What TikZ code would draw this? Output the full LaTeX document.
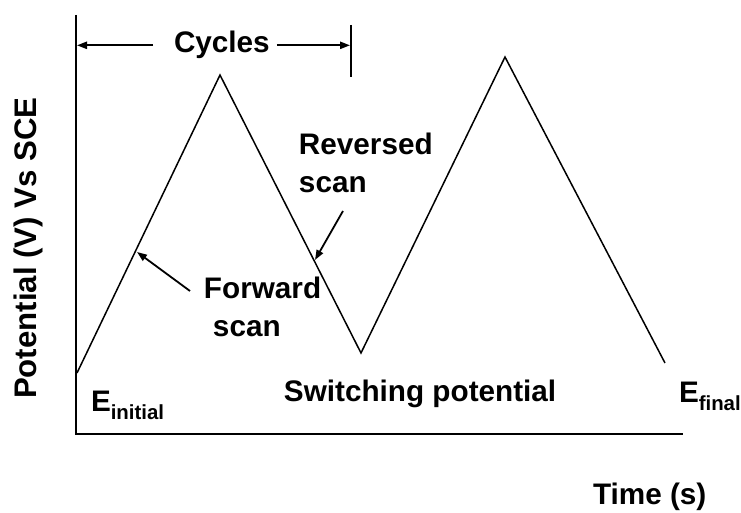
\documentclass[tikz,border=0pt]{standalone}
\usepackage{fontspec}
\setmainfont{Liberation Sans}
\usetikzlibrary{arrows.meta}
\tikzset{
  lbl/.style={inner sep=0pt,font=\fontsize{14.85}{19}\selectfont\bfseries},
  pointer/.style={-{Triangle[length=5pt,width=3.6pt]},line width=.9pt},
}
\newcommand{\lowsub}[1]{\raisebox{-4pt}{\fontsize{10.2}{12}\selectfont #1}}

\begin{document}
\begin{tikzpicture}[x=.5pt,y=-.5pt,line width=1pt]
\useasboundingbox (0,0) rectangle (741,513);
% axes
\coordinate (top) at (76,15);\coordinate (orig) at (76,434);\coordinate (right) at (683,434);
\draw (top)--(orig)--(right);
% potential sweep
\coordinate (ei) at (77,373);\coordinate (pk1) at (220,75);\coordinate (sw) at (361,353);
\coordinate (pk2) at (505,57);\coordinate (ef) at (665,363);
\draw[line width=.75pt] (ei)--(pk1)--(sw)--(pk2)--(ef);
% cycle marker
\node[lbl,anchor=base west] (cyc) at (173,53) {Cycles};
\coordinate (cyc-l) at (77,46);\coordinate (cyc-r) at (350,46);
\coordinate (tick-t) at (351,25);\coordinate (tick-b) at (351,77);
\draw[pointer] ([xshift=-10pt]cyc.west) -- (cyc-l |- cyc.west);
\draw[pointer] ([xshift=3pt]cyc.east) -- (cyc-r |- cyc.east);
\draw (tick-t)--(tick-b);
% scan labels
\node[lbl,anchor=north west,align=left] (rev) at (298,132) {Reversed\\scan};
\node[lbl,anchor=north west,align=left] (fwd) at (203,276) {Forward\\\hspace{4.5pt}scan};
\coordinate (rev-tail) at (343,211);\coordinate (rev-tip) at (315,260);
\coordinate (fwd-tail) at (190,291);\coordinate (fwd-tip) at (137,252);
\draw[pointer] (rev-tail) -- (rev-tip);
\draw[pointer] (fwd-tail) -- (fwd-tip);
% potentials
\node[lbl,anchor=base west] (einit) at (90,412) {E\lowsub{initial}};
\node[lbl,anchor=base west] (efin) at (678,403) {E\lowsub{final}};
\node[lbl,anchor=base west] (switch) at (283,402) {Switching potential};
% axis titles
\node[lbl,anchor=base west,rotate=90,font=\fontsize{15.6}{19}\selectfont\bfseries] (ylab) at (36,400) {Potential (V) Vs SCE};
\node[lbl,anchor=base west] (xlab) at (592,505) {Time (s)};
\end{tikzpicture}
\end{document}
